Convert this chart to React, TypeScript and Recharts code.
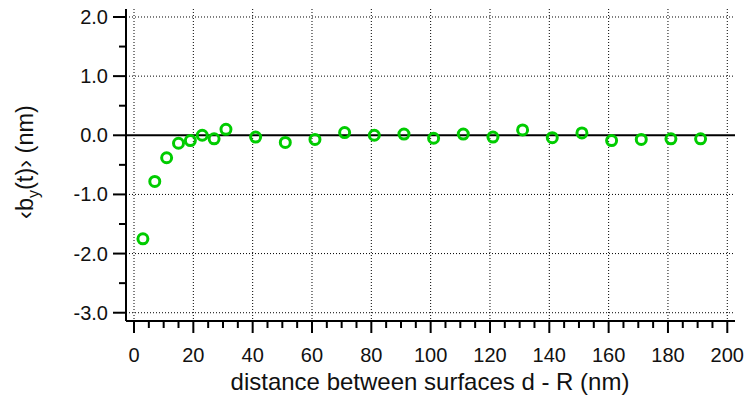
import {
  ScatterChart,
  Scatter,
  XAxis,
  YAxis,
  CartesianGrid,
  ReferenceLine,
  Label,
} from "recharts";

// distance between surfaces d - R (nm)
const distances = [3, 7, 11, 15, 19, 23, 27, 31, 41, 51, 61, 71, 81, 91, 101, 111, 121, 131, 141, 151, 161, 171, 181, 191];
// <b_y(t)> (nm)
const byMeans = [-1.75, -0.78, -0.38, -0.135, -0.09, 0.0, -0.06, 0.1, -0.03, -0.12, -0.07, 0.045, 0.0, 0.02, -0.05, 0.02, -0.03, 0.09, -0.04, 0.04, -0.09, -0.07, -0.06, -0.06];

const xMajorTicks = [0, 20, 40, 60, 80, 100, 120, 140, 160, 180, 200];
const yMajorTicks = [-3, -2, -1, 0, 1, 2];
const xMinorStep = 5;
const yMinorStep = 0.5;

const xDomain: [number, number] = [-2.7, 202.6];
const yDomain: [number, number] = [-3.14, 2.135];

const xTicks: number[] = [];
for (let v = xMajorTicks[0]; v <= xMajorTicks[xMajorTicks.length - 1]; v += xMinorStep) xTicks.push(v);
const yTicks: number[] = [];
for (let v = yMajorTicks[0]; v <= yMajorTicks[yMajorTicks.length - 1] + 1e-9; v += yMinorStep) yTicks.push(Math.round(v * 10) / 10);

const data = distances.map((d, i) => ({ d, b: byMeans[i] }));

const FONT = "'Liberation Sans', Arial, sans-serif";
const GREEN = "#00cc00";
const frameLine = { stroke: "#000", strokeWidth: 2 };

const isMajor = (v: number, majors: number[]) => majors.some((m) => Math.abs(m - v) < 1e-6);

const XTick = (props: any) => {
  const { x, y, payload } = props;
  const major = isMajor(payload.value, xMajorTicks);
  return (
    <g>
      <line x1={x} x2={x} y1={y} y2={y + (major ? 12 : 7)} stroke="#000" strokeWidth={2} />
      {major && (
        <text x={x} y={y + 41} textAnchor="middle" fontFamily={FONT} fontSize={20} fill="#111">
          {payload.value}
        </text>
      )}
    </g>
  );
};

const YTick = (props: any) => {
  const { x, y, payload } = props;
  const major = isMajor(payload.value, yMajorTicks);
  return (
    <g>
      <line x1={x - (major ? 13 : 7)} x2={x} y1={y} y2={y} stroke="#000" strokeWidth={2} />
      {major && (
        <text x={x - 18} y={y + 7} textAnchor="end" fontFamily={FONT} fontSize={20} fill="#111">
          {payload.value.toFixed(1)}
        </text>
      )}
    </g>
  );
};

const Ring = (props: any) => {
  const { cx, cy } = props;
  return <circle cx={cx} cy={cy} r={5} fill="none" stroke={GREEN} strokeWidth={3} />;
};

export default function App() {
  return (
    <div style={{ position: "absolute", left: 0, top: 0, width: 745, height: 396, background: "#fff" }}>
      <ScatterChart width={745} height={396} margin={{ top: 9, right: 10, bottom: 0, left: 0 }}>
        <CartesianGrid
          stroke="#000"
          strokeWidth={1}
          strokeDasharray="1 2"
          horizontalValues={yMajorTicks.filter((v) => v !== 0)}
          verticalValues={xMajorTicks}
        />
        <XAxis
          type="number"
          dataKey="d"
          domain={xDomain}
          ticks={xTicks}
          interval={0}
          tickSize={0}
          tickMargin={0}
          tick={<XTick />}
          height={75}
          axisLine={frameLine}
          allowDataOverflow
        >
          <Label
            content={() => (
              <text x={430} y={390} textAnchor="middle" fontFamily={FONT} fontSize={24} fill="#111">
                distance between surfaces d - R (nm)
              </text>
            )}
          />
        </XAxis>
        <XAxis
          xAxisId="top"
          orientation="top"
          type="number"
          dataKey="d"
          domain={xDomain}
          height={0}
          tick={false}
          tickLine={false}
          axisLine={frameLine}
          allowDataOverflow
        />
        <YAxis
          type="number"
          dataKey="b"
          domain={yDomain}
          ticks={yTicks}
          interval={0}
          tickSize={0}
          tickMargin={0}
          tick={<YTick />}
          width={126}
          axisLine={frameLine}
          allowDataOverflow
        >
          <Label
            content={() => (
              <text
                x={0}
                y={0}
                transform="translate(33 162) rotate(-90)"
                textAnchor="middle"
                fontFamily={FONT}
                fontSize={23.5}
                fill="#111"
              >
                {"\u2039b"}
                <tspan dy={6} fontSize={16}>y</tspan>
                <tspan dy={-6}>{"(t)\u203A (nm)"}</tspan>
              </text>
            )}
          />
        </YAxis>
        <YAxis
          yAxisId="right"
          orientation="right"
          type="number"
          dataKey="b"
          domain={yDomain}
          width={0}
          tick={false}
          tickLine={false}
          axisLine={frameLine}
          allowDataOverflow
        />
        <ReferenceLine y={0} stroke="#000" strokeWidth={2} />
        <Scatter data={data} shape={<Ring />} isAnimationActive={false} />
      </ScatterChart>
    </div>
  );
}
